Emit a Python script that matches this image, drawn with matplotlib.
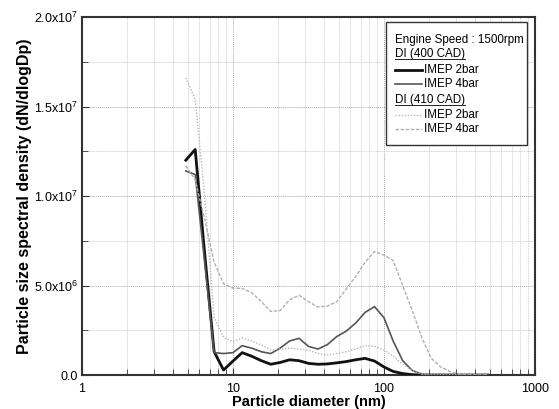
import numpy as np
import matplotlib
matplotlib.use("Agg")
import matplotlib.pyplot as plt
from matplotlib.lines import Line2D
from matplotlib.patches import Rectangle
from matplotlib.ticker import FixedLocator, NullFormatter

plt.rcParams['font.family'] = ['Liberation Sans', 'DejaVu Sans']
plt.rcParams['mathtext.fontset'] = 'custom'
plt.rcParams['mathtext.rm'] = 'Liberation Sans'
plt.rcParams['mathtext.it'] = 'Liberation Sans'

# particle diameter bins (nm)
diameter = [4.87, 5.62, 6.49, 7.50, 8.66, 10.0, 11.5, 13.3, 15.4, 17.8,
             20.5, 23.7, 27.4, 31.6, 36.5, 42.2, 48.7, 56.2, 64.9, 75.0,
             86.6, 100, 115, 133, 154, 178, 205, 237, 274, 316,
             365, 422, 487]

# dN/dlogDp, in units of 1e6
di400_2bar = [12.0, 12.6, 6.8, 1.3, 0.28, 0.78, 1.25, 1.05, 0.8, 0.6,
              0.7, 0.85, 0.8, 0.65, 0.6, 0.62, 0.68, 0.75, 0.85, 0.93,
              0.78, 0.45, 0.2, 0.08, 0.02, 0, 0, 0, 0, 0,
              0, 0, 0]
di400_4bar = [11.4, 11.2, 6.3, 1.25, 1.2, 1.25, 1.64, 1.5, 1.3, 1.2,
              1.5, 1.9, 2.05, 1.6, 1.45, 1.7, 2.15, 2.45, 2.9, 3.5,
              3.82, 3.2, 1.9, 0.8, 0.25, 0.05, 0, 0, 0, 0,
              0, 0, 0]
di410_2bar = [16.6, 15.4, 10.0, 3.2, 2.1, 1.86, 2.06, 1.9, 1.68, 1.4,
              1.45, 1.5, 1.45, 1.38, 1.2, 1.12, 1.2, 1.3, 1.45, 1.65,
              1.6, 1.4, 1.05, 0.6, 0.25, 0.05, 0, 0, 0, 0,
              0, 0, 0]
di410_4bar = [11.7, 10.9, 8.7, 6.3, 5.1, 4.85, 4.84, 4.6, 4.1, 3.55,
              3.6, 4.2, 4.45, 4.1, 3.8, 3.85, 4.1, 4.8, 5.5, 6.3,
              6.9, 6.7, 6.4, 5.0, 3.6, 2.1, 0.95, 0.45, 0.2, 0.05,
              0, 0, 0]

y_major = [0, 5e6, 1e7, 1.5e7, 2e7]
y_labels = ['0.0', '5.0x10$^{6}$', '1.0x10$^{7}$', '1.5x10$^{7}$', '2.0x10$^{7}$']
y_minor = [2.5e6, 7.5e6, 1.25e7, 1.75e7]

fig = plt.figure(figsize=(5.59, 4.09), dpi=100)
ax = fig.add_axes([0.1467, 0.0831, 0.8103, 0.8753])

d = np.array(diameter)
s = 1e6
styles = [
    (di400_2bar, dict(color='#111111', lw=2.0, ls='-')),
    (di400_4bar, dict(color='#555555', lw=1.2, ls='-')),
    (di410_2bar, dict(color='#b8b8b8', lw=1.0, ls=(0, (1, 1.2)))),
    (di410_4bar, dict(color='#b0b0b0', lw=1.0, ls=(0, (2.5, 1.2)))),
]
for vals, kw in styles:
    ax.plot(d, np.array(vals) * s, **kw, zorder=3)

ax.set_xscale('log')
ax.set_xlim(1, 1000)
ax.set_ylim(0, 2e7)
ax.set_xticks([1, 10, 100, 1000])
ax.set_xticklabels(['1', '10', '100', '1000'])
ax.yaxis.set_major_locator(FixedLocator(y_major))
ax.set_yticklabels(y_labels)
ax.yaxis.set_minor_locator(FixedLocator(y_minor))
ax.yaxis.set_minor_formatter(NullFormatter())
ax.xaxis.set_minor_formatter(NullFormatter())

ax.grid(True, which='minor', color='#c4c4c4', ls=(0, (1, 1)), lw=0.6)
ax.grid(True, which='major', color='#aaaaaa', ls=(0, (1, 1)), lw=0.7)
ax.tick_params(which='both', direction='in', labelsize=9, color='#333333')
ax.tick_params(which='major', length=5)
ax.tick_params(which='minor', length=4)
ax.tick_params(axis='x', pad=6)
ax.tick_params(axis='y', pad=3)
for sp in ax.spines.values():
    sp.set_color('#333333')
    sp.set_linewidth(1.5)

ax.set_xlabel('Particle diameter (nm)', fontsize=10.5, fontweight='bold', labelpad=0)
ax.set_ylabel('Particle size spectral density (dN/dlogDp)', fontsize=11.5,
              fontweight='bold', labelpad=1)

# legend box drawn by hand so headers can sit flush left
tr = ax.transAxes
x0, x1 = 0.672, 0.983
y0, y1 = 0.642, 0.985
ax.add_patch(Rectangle((x0, y0), x1 - x0, y1 - y0, transform=tr, fill=True,
                       facecolor='white', edgecolor='#333333', lw=1.0, zorder=5))
rows = [0.936, 0.897, 0.852, 0.813, 0.768, 0.726, 0.687]
tx = x0 + 0.020
lx0, lx1 = x0 + 0.020, x0 + 0.078
fs = 8.4
ax.text(tx, rows[0], 'Engine Speed : 1500rpm', transform=tr, fontsize=fs,
        va='center', zorder=6)
headers = []
for r, lab in [(rows[1], 'DI (400 CAD)'), (rows[4], 'DI (410 CAD)')]:
    headers.append(ax.text(tx, r, lab, transform=tr, fontsize=fs, va='center', zorder=6))
for r, (vals, kw) in zip([rows[2], rows[3], rows[5], rows[6]], styles):
    ax.add_line(Line2D([lx0, lx1], [r, r], transform=tr, zorder=6, **kw))
for r, lab in zip([rows[2], rows[3], rows[5], rows[6]],
                  ['IMEP 2bar', 'IMEP 4bar', 'IMEP 2bar', 'IMEP 4bar']):
    ax.text(lx1 + 0.006, r, lab, transform=tr, fontsize=fs, va='center', zorder=6)

# underline headers
fig.canvas.draw()
inv = tr.inverted()
for t in headers:
    bb = t.get_window_extent()
    (a, b), (c, _) = inv.transform([[bb.x0, bb.y0], [bb.x1, bb.y1]])
    ax.add_line(Line2D([a, c], [b + 0.002, b + 0.002], transform=tr, color='#222222',
                       lw=0.7, zorder=6))

fig.savefig('out.png', dpi=100)
